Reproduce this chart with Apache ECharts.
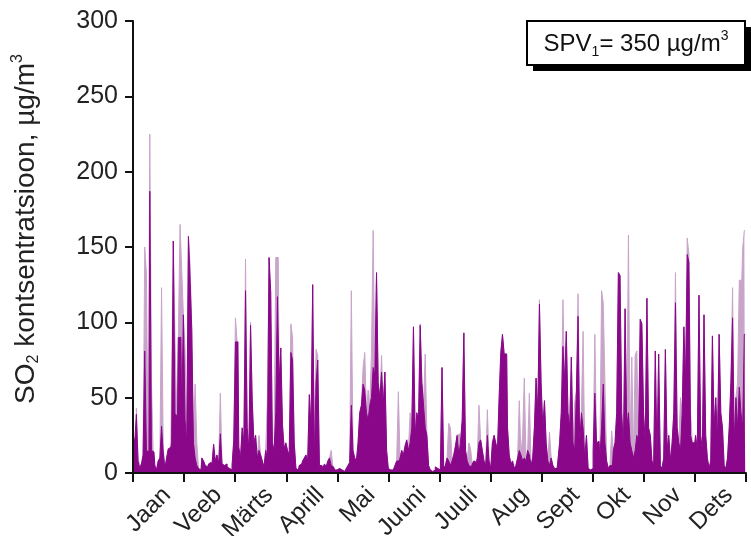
<!DOCTYPE html>
<html>
<head>
<meta charset="utf-8">
<script src="https://cdn.jsdelivr.net/npm/echarts@6/dist/echarts.min.js"></script>
<style>
  html, body { margin: 0; padding: 0; background: #fff; }
  #chart { width: 751px; height: 536px; }
</style>
</head>
<body>
<div id="chart"></div>
<script>
const months = ['Jaan', 'Veeb', 'Märts', 'Aprill', 'Mai', 'Juuni', 'Juuli', 'Aug', 'Sept', 'Okt', 'Nov', 'Dets'];

// daily values, one row per month
const lightSeries = [
  23,22,43,10,5,6,12,150,132,16,225,60,14,5,2,8,10,123,16,3,10,16,17,60,154,88,40,90,165,135,105,
  82,20,157,138,95,20,59,20,3,2,10,8,5,4,6,7,5,19,8,12,6,53,6,5,6,4,3,2,
  5,22,103,87,17,10,30,20,142,30,15,100,48,20,25,10,25,12,8,4,15,48,143,120,20,15,143,143,60,83,32,
  16,20,15,12,99,90,20,3,2,5,6,8,10,12,8,52,30,125,10,82,78,5,5,3,6,4,8,10,15,4,
  2,2,3,3,2,1,2,3,5,7,121,15,10,8,20,40,45,70,80,40,55,45,80,161,65,133,60,50,78,45,67,
  15,3,2,2,3,5,8,54,10,15,12,18,22,15,40,30,97,25,40,35,99,60,45,79,25,5,2,1,2,4,
  3,2,3,70,3,5,10,33,30,8,12,18,25,26,20,35,93,15,8,20,16,6,8,7,10,45,22,15,8,5,42,
  8,3,20,25,20,15,50,80,92,79,79,30,12,6,8,3,5,10,48,12,25,63,8,15,53,5,10,30,63,40,115,
  60,30,48,20,8,27,10,5,3,3,8,20,40,115,60,94,40,30,77,20,47,54,119,20,40,94,10,25,3,2,
  3,15,92,20,21,10,121,113,60,8,3,5,28,15,20,40,133,131,40,15,109,30,158,20,77,10,78,81,20,102,99,
  40,20,116,30,25,8,5,81,10,79,5,3,10,82,15,25,8,20,40,133,30,20,50,40,97,60,156,145,40,20,
  20,25,15,118,25,15,105,25,10,3,8,91,30,50,20,92,40,30,5,3,10,30,60,123,20,50,60,128,128,149,161
];

const darkSeries = [
  23,20,39,8,3,6,12,81,15,14,187,15,14,5,2,8,10,31,14,3,10,16,17,20,154,39,38,90,90,40,105,
  35,20,157,128,95,20,10,5,3,2,10,8,5,4,6,7,5,19,8,12,6,26,6,5,6,4,3,2,
  5,22,87,87,17,10,30,20,121,30,15,98,48,20,25,10,15,12,8,4,15,10,143,120,20,15,40,117,60,83,32,
  16,20,15,12,80,75,20,3,2,5,6,8,10,12,8,52,30,125,10,60,75,5,5,3,6,4,8,10,5,4,
  2,2,3,3,2,1,2,3,5,7,45,15,10,8,20,40,45,59,55,40,35,45,50,70,65,133,60,50,67,45,67,
  15,3,2,2,3,5,8,8,10,15,12,18,22,15,20,30,97,25,40,35,98,60,45,30,25,5,2,1,2,4,
  3,2,3,70,3,5,10,8,5,8,12,18,25,12,20,35,93,15,8,5,4,6,8,7,10,20,22,15,8,5,25,
  8,3,20,25,20,15,50,80,92,79,79,30,12,6,8,3,5,10,15,12,8,10,8,15,12,5,10,30,63,40,112,
  60,30,48,20,8,5,10,5,3,3,8,20,40,84,60,94,40,30,77,20,15,54,104,20,40,30,10,25,3,2,
  3,15,53,20,21,10,30,59,20,8,3,5,5,15,20,40,133,131,40,15,109,30,40,20,15,10,15,25,20,102,99,
  40,20,116,30,25,8,5,81,10,79,5,3,10,82,15,25,8,20,40,113,30,20,15,40,97,60,145,140,25,20,
  20,25,15,118,25,15,105,25,10,3,8,91,30,50,20,92,40,30,5,3,10,30,60,103,20,50,30,57,40,30,92
];

const lightColor = '#c9a4ca';
const darkColor = '#8a078a';
const axisColor = '#111';
const font = 'Liberation Sans, Arial, sans-serif';

// day i sits in the middle of its slot on the hidden 0..365 axis
const toPoints = arr => arr.map((v, i) => [i + 0.5, v]);

const chart = echarts.init(document.getElementById('chart'));
chart.setOption({
  animation: false,
  grid: { left: 133, right: 5, top: 21, bottom: 63, outerBoundsMode: 'none' },
  xAxis: [
    {
      type: 'category',
      data: months,
      boundaryGap: true,
      z: 5,
      axisLine: { lineStyle: { color: axisColor, width: 2 } },
      axisTick: { show: true, interval: 0, length: 9, lineStyle: { color: axisColor, width: 2 } },
      axisLabel: {
        interval: 0, rotate: 45, fontSize: 24, fontFamily: font, color: '#222',
        margin: 10, verticalAlign: 'top'
      },
      splitLine: { show: false }
    },
    { type: 'value', min: 0, max: 365, show: false }
  ],
  yAxis: {
    type: 'value',
    min: 0,
    max: 300,
    interval: 50,
    z: 5,
    axisLine: { show: true, lineStyle: { color: axisColor, width: 2 } },
    axisTick: { show: true, length: 8, lineStyle: { color: axisColor, width: 2 } },
    axisLabel: { fontSize: 25, fontFamily: font, color: '#222', margin: 15 },
    splitLine: { show: false },
    name: '{n|SO}{sub|2}{n| kontsentratsioon, µg/m}{sup|3}',
    nameLocation: 'middle',
    nameRotate: 90,
    nameGap: 91,
    nameTextStyle: {
      padding: [0, 0, 0, 36],
      rich: {
        n: { fontSize: 28, fontFamily: font, color: '#222', lineHeight: 32 },
        sub: { fontSize: 16, fontFamily: font, color: '#222', verticalAlign: 'bottom', lineHeight: 32 },
        sup: { fontSize: 16, fontFamily: font, color: '#222', verticalAlign: 'top', lineHeight: 32 }
      }
    }
  },
  series: [
    {
      type: 'line',
      xAxisIndex: 1,
      data: toPoints(lightSeries),
      step: 'middle',
      showSymbol: false,
      lineStyle: { color: lightColor, width: 1 },
      areaStyle: { color: lightColor, opacity: 1 },
      z: 2
    },
    {
      type: 'line',
      xAxisIndex: 1,
      data: toPoints(darkSeries),
      step: 'middle',
      showSymbol: false,
      lineStyle: { color: darkColor, width: 1 },
      areaStyle: { color: darkColor, opacity: 1 },
      z: 3
    }
  ],
  graphic: [
    { type: 'rect', shape: { x: 533, y: 27, width: 218, height: 44 }, style: { fill: '#000' }, z: 10 },
    { type: 'rect', shape: { x: 527, y: 21, width: 218, height: 44 }, style: { fill: '#fff', stroke: '#000', lineWidth: 2 }, z: 11 },
    {
      type: 'text', x: 636, y: 44, z: 12,
      style: {
        text: '{a|SPV}{b|1}{a|= 350 µg/m}{c|3}',
        align: 'center',
        verticalAlign: 'middle',
        rich: {
          a: { fontSize: 24, fontFamily: font, fill: '#111', lineHeight: 30 },
          b: { fontSize: 14, fontFamily: font, fill: '#111', verticalAlign: 'bottom', lineHeight: 30 },
          c: { fontSize: 14, fontFamily: font, fill: '#111', verticalAlign: 'top', lineHeight: 30 }
        }
      }
    }
  ]
});
</script>
</body>
</html>
